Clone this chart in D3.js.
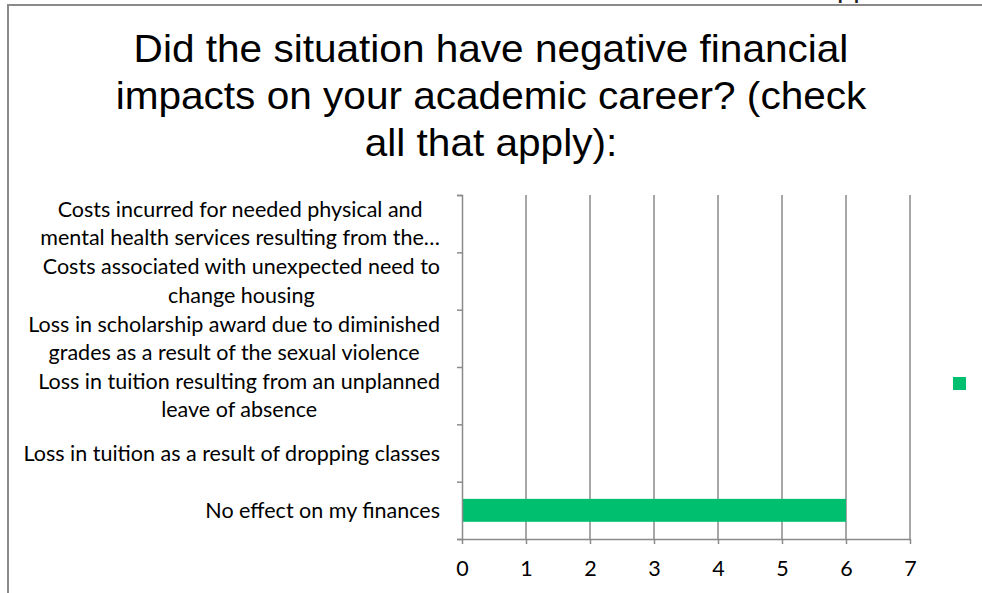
<!DOCTYPE html>
<html lang="en">
<head>
  <meta charset="utf-8" />
  <title>Financial impacts</title>
  <script src="https://d3js.org/d3.v7.min.js"></script>
  <style>
    body { margin: 0; background: #fff; }
    svg { display: block; }
  </style>
</head>
<body>
<svg id="chart" width="982" height="593"></svg>

<script>
    // data, top row first
    var categories = [
      "Costs incurred for needed physical and\nmental health services resulting from the\u2026",
      "Costs associated with unexpected need to\nchange housing",
      "Loss in scholarship award due to diminished\ngrades as a result of the sexual violence",
      "Loss in tuition resulting from an unplanned\nleave of absence",
      "Loss in tuition as a result of dropping classes",
      "No effect on my finances"
    ];
    var counts = [0, 0, 0, 0, 0, 6];
    var xTicks = [0, 1, 2, 3, 4, 5, 6, 7];
    var titleLines = [
      "Did the situation have negative financial",
      "impacts on your academic career? (check",
      "all that apply):"
    ];

    var svg = d3.select("#chart");
    var grey = "#8a8a8a";
    var barColor = "#00bf6f";
    var labelFont = "Lato, 'Open Sans', sans-serif";
    var labelSize = 21.5;

    // plot box (note: "top" is taken by window.top)
    var plotL = 462, plotR = 910, plotT = 195, plotB = 539;

    var x = d3.scaleLinear().domain([0, 7]).range([plotL, plotR]);
    var y = d3.scaleBand().domain(categories).range([plotT, plotB])
        .paddingInner(0.6).paddingOuter(0.3);
    var yEdge = d3.scaleLinear().domain([0, categories.length]).range([plotT, plotB]);

    // frame (slide border, clipped)
    svg.append("path")
        .attr("d", "M8,593V5H982")
        .attr("fill", "none").attr("stroke", grey).attr("stroke-width", 2);
    svg.append("text").attr("x", 837).attr("y", -3)
        .attr("font-family", "Liberation Sans, Arial, sans-serif")
        .attr("font-size", 29).attr("fill", "#222").text("pp");

    // title
    var title = svg.append("g")
        .attr("font-family", "Liberation Sans, Arial, sans-serif")
        .attr("font-size", 39).attr("fill", "#000").attr("text-anchor", "middle");
    title.selectAll("text").data(titleLines).enter().append("text")
        .attr("x", 491).attr("y", function(d, i) { return 62 + i * 47; })
        .text(function(d) { return d; })
        .each(function() {
          var w = this.getComputedTextLength();
          d3.select(this).attr("textLength", w * 1.04).attr("lengthAdjust", "spacingAndGlyphs");
        });

    // vertical gridlines
    svg.append("g").selectAll("line").data(xTicks.slice(1)).enter().append("line")
        .attr("x1", function(d) { return x(d); }).attr("x2", function(d) { return x(d); })
        .attr("y1", plotT).attr("y2", plotB)
        .attr("stroke", grey).attr("stroke-width", 1.5);

    // bars
    svg.append("g").selectAll("rect").data(counts).enter().append("rect")
        .attr("x", x(0))
        .attr("y", function(d, i) { return y(categories[i]); })
        .attr("width", function(d) { return x(d) - x(0); })
        .attr("height", y.bandwidth())
        .attr("fill", barColor);

    // bottom axis
    var xAxis = svg.append("g").attr("transform", "translate(0," + plotB + ")")
        .call(d3.axisBottom(x).tickValues(xTicks).tickFormat(d3.format("d"))
              .tickSize(5).tickPadding(17).tickSizeOuter(0));
    xAxis.selectAll("path, line").attr("stroke", grey).attr("stroke-width", 1.5);
    xAxis.selectAll("text").attr("font-family", labelFont).attr("font-size", labelSize).attr("fill", "#000");

    // left axis with ticks on category boundaries
    var yAxis = svg.append("g").attr("transform", "translate(" + plotL + ",0)")
        .call(d3.axisLeft(yEdge).ticks(categories.length).tickSize(5).tickFormat("").tickSizeOuter(5));
    yAxis.selectAll("path, line").attr("stroke", grey).attr("stroke-width", 1.5);

    // category labels, wrapped lines centred in their block
    var lab = svg.append("g").attr("font-family", labelFont).attr("font-size", labelSize).attr("fill", "#000");
    categories.forEach(function(c) {
      var lines = c.split("\n");
      var lh = 28.5;
      var cy = y(c) + y.bandwidth() / 2;
      var t = lab.append("text").attr("text-anchor", "middle");
      lines.forEach(function(l, i) {
        t.append("tspan").attr("y", cy + (i - (lines.length - 1) / 2) * lh).attr("dy", "0.35em").text(l);
      });
      var w = d3.max(t.selectAll("tspan").nodes(), function(n) { return n.getComputedTextLength(); });
      t.selectAll("tspan").attr("x", 440 - w / 2);
    });

    // legend (series without a name)
    svg.append("rect").attr("x", 953).attr("y", 377).attr("width", 13).attr("height", 13)
        .attr("fill", barColor);
</script>

</body>
</html>
